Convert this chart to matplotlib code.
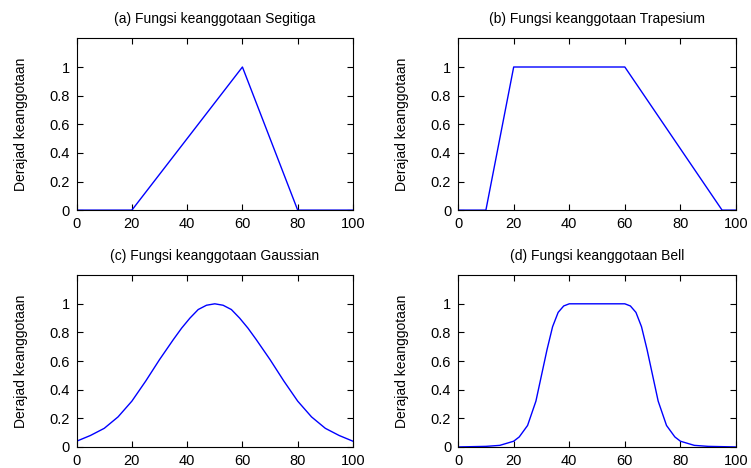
import numpy as np
import matplotlib.pyplot as plt

plt.rcParams['font.family'] = ['Liberation Sans', 'DejaVu Sans']

# (a) segitiga
x_tri = [0, 20, 60, 80, 100]
y_tri = [0, 0, 1, 0, 0]

# (b) trapesium
x_trap = [0, 10, 20, 60, 95, 100]
y_trap = [0, 0, 1, 1, 0, 0]

# (c) gaussian
x_gauss = [0, 5, 10, 15, 20, 25, 30, 35, 38, 41, 44, 47, 50,
           53, 56, 59, 62, 65, 70, 75, 80, 85, 90, 95, 100]
y_gauss = [0.04, 0.08, 0.13, 0.21, 0.32, 0.46, 0.61, 0.75, 0.83, 0.9, 0.96, 0.99, 1.0,
           0.99, 0.96, 0.9, 0.83, 0.75, 0.61, 0.46, 0.32, 0.21, 0.13, 0.08, 0.04]

# (d) bell
x_bell = [0, 10, 15, 20, 22, 25, 28, 30, 32, 34, 36, 38, 40, 45, 50,
          55, 60, 62, 64, 66, 68, 70, 72, 75, 78, 80, 85, 90, 100]
y_bell = [0.0, 0.004, 0.011, 0.04, 0.07, 0.15, 0.32, 0.5, 0.68, 0.84, 0.94, 0.985, 1.0, 1.0, 1.0,
          1.0, 1.0, 0.985, 0.94, 0.84, 0.68, 0.5, 0.32, 0.15, 0.07, 0.04, 0.011, 0.004, 0.0]

titles = ['(a) Fungsi keanggotaan Segitiga', '(b) Fungsi keanggotaan Trapesium',
          '(c) Fungsi keanggotaan Gaussian', '(d) Fungsi keanggotaan Bell']
xs = [x_tri, x_trap, x_gauss, x_bell]
ys = [y_tri, y_trap, y_gauss, y_bell]

fig = plt.figure(figsize=(7.51, 4.68), dpi=100)
pos = [[0.102, 0.551, 0.368, 0.367],
       [0.610, 0.551, 0.370, 0.367],
       [0.102, 0.045, 0.368, 0.367],
       [0.610, 0.045, 0.370, 0.367]]

for i in range(4):
    ax = fig.add_axes(pos[i])
    ax.plot(xs[i], ys[i], color='#0000ff', lw=1)
    ax.set_xlim(0, 100)
    ax.set_ylim(0, 1.2)
    ax.set_xticks([0, 20, 40, 60, 80, 100])
    ax.set_yticks([0, 0.2, 0.4, 0.6, 0.8, 1])
    ax.set_yticklabels(['0', '0.2', '0.4', '0.6', '0.8', '1'])
    ax.tick_params(direction='in', length=4, width=0.8, top=True, right=True,
                   labelsize=10.5, pad=5)
    ax.set_title(titles[i], fontsize=10, pad=11)
    ax.set_ylabel('Derajad keanggotaan', fontsize=10)
    ax.yaxis.set_label_coords(-0.175, 0.5)
    for s in ax.spines.values():
        s.set_linewidth(0.8)

fig.savefig('out.png', dpi=100)
